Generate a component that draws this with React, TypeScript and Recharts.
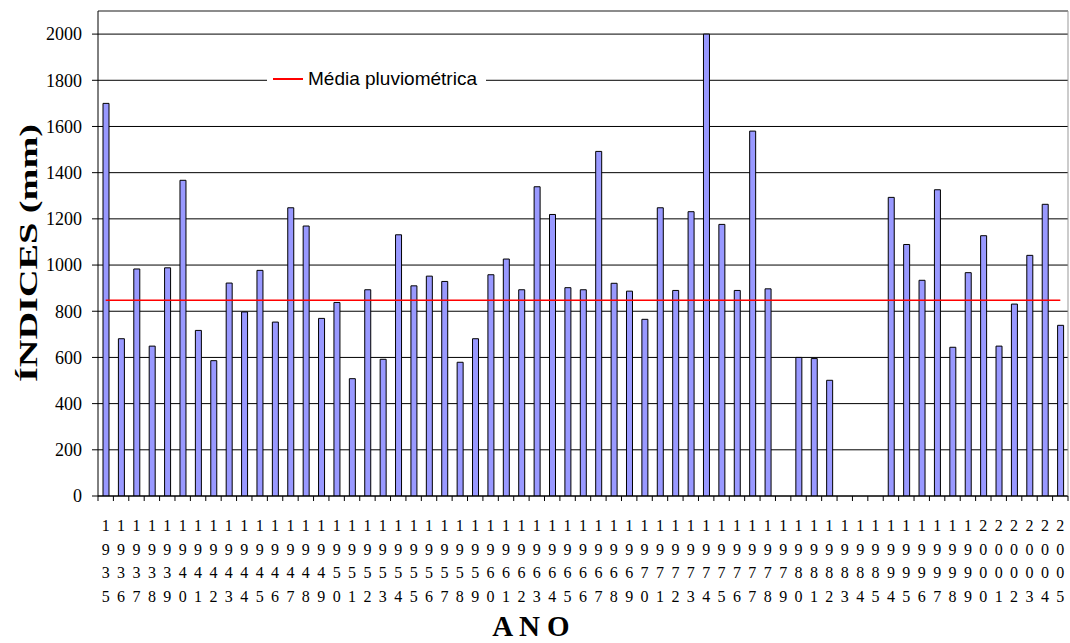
import { ComposedChart, Bar, Line, XAxis, YAxis, CartesianGrid, ReferenceLine } from 'recharts';

const YEARS = [
  '1935', '1936', '1937', '1938', '1939', '1940', '1941', '1942', '1943', '1944',
  '1945', '1946', '1947', '1948', '1949', '1950', '1951', '1952', '1953', '1954',
  '1955', '1956', '1957', '1958', '1959', '1960', '1961', '1962', '1963', '1964',
  '1965', '1966', '1967', '1968', '1969', '1970', '1971', '1972', '1973', '1974',
  '1975', '1976', '1977', '1978', '1979', '1980', '1981', '1982', '1983', '1984',
  '1985', '1994', '1995', '1996', '1997', '1998', '1999', '2000', '2001', '2002',
  '2003', '2004', '2005',
];

const INDICES: (number | null)[] = [
  1700, 681, 983, 649, 988, 1367, 717, 586, 922, 797,
  977, 753, 1248, 1169, 769, 838, 508, 893, 592, 1131,
  910, 952, 929, 579, 681, 958, 1026, 893, 1339, 1219,
  902, 893, 1492, 921, 887, 765, 1248, 890, 1231, 2000,
  1176, 890, 1580, 897, null, 600, 595, 501, null, null,
  null, 1293, 1089, 934, 1326, 644, 967, 1127, 649, 831,
  1042, 1263, 739,
];

const MEDIA = 848;

const Y_TICKS = [0, 200, 400, 600, 800, 1000, 1200, 1400, 1600, 1800, 2000];

const data = YEARS.map((ano, i) => ({ ano, indice: INDICES[i], media: MEDIA }));

const serif = '"Liberation Serif", "Times New Roman", serif';
const sans = '"Liberation Sans", Arial, sans-serif';

function YearTick(props: any) {
  const { x, y, payload, index } = props;
  const half = payload.offset ?? 971 / YEARS.length / 2;
  const digits = String(payload.value).split('');
  return (
    <g>
      <line x1={x + half} x2={x + half} y1={y} y2={y + 5} stroke="#000" />
      {index === 0 && <line x1={x - half} x2={x - half} y1={y} y2={y + 5} stroke="#000" />}
      {digits.map((d, k) => (
        <text key={k} x={x} y={y + 35 + k * 23.7} textAnchor="middle" fontSize={16} fontFamily={serif} fill="#000">
          {d}
        </text>
      ))}
    </g>
  );
}

function YLabel() {
  return (
    <text
      x={0}
      y={0}
      transform="translate(37,253) rotate(-90)"
      textAnchor="middle"
      fontSize={26}
      fontWeight="bold"
      fontFamily={serif}
      textLength={258}
      lengthAdjust="spacingAndGlyphs"
      fill="#000"
    >
      ÍNDICES (mm)
    </text>
  );
}

function XLabel() {
  return (
    <text x={531} y={636} textAnchor="middle" fontSize={29} fontWeight="bold" fontFamily={serif} fill="#000">
      A N O
    </text>
  );
}

export default function App() {
  return (
    <div style={{ position: 'absolute', left: 0, top: 0, width: 1070, height: 643, background: 'white' }}>
      <ComposedChart width={1070} height={643} data={data} margin={{ top: 11, right: 1, bottom: 0, left: 0 }} barSize={6}>
        <CartesianGrid vertical={false} stroke="#000" strokeWidth={1} />
        <XAxis
          dataKey="ano"
          interval={0}
          height={147}
          tickLine={false}
          tickSize={0}
          tickMargin={0}
          axisLine={{ stroke: '#000' }}
          tick={<YearTick />}
          label={<XLabel />}
        />
        <YAxis
          domain={[0, 2100]}
          ticks={Y_TICKS}
          width={98}
          tickSize={6}
          tickMargin={10}
          axisLine={{ stroke: '#000' }}
          tickLine={{ stroke: '#000' }}
          tick={{ fontSize: 18, fontFamily: serif, fill: '#000' }}
          label={<YLabel />}
          allowDataOverflow
        />
        <YAxis yAxisId="right" orientation="right" width={1} tick={false} tickLine={false} axisLine={{ stroke: '#999' }} />
        <ReferenceLine y={2100} stroke="#999" />
        <Bar dataKey="indice" fill="#9999FF" stroke="#000" strokeWidth={1} isAnimationActive={false} />
        <Line dataKey="media" stroke="#FF0000" strokeWidth={1.5} dot={false} activeDot={false} isAnimationActive={false} />
      </ComposedChart>
      <div style={{ position: 'absolute', left: 267, top: 67, width: 219, height: 24, background: 'white', display: 'flex', alignItems: 'center', fontFamily: sans, fontSize: 19, color: '#000' }}>
        <div style={{ width: 30, height: 2, background: '#FF0000', marginLeft: 6, marginRight: 5 }} />
        <span>Média pluviométrica</span>
      </div>
    </div>
  );
}
